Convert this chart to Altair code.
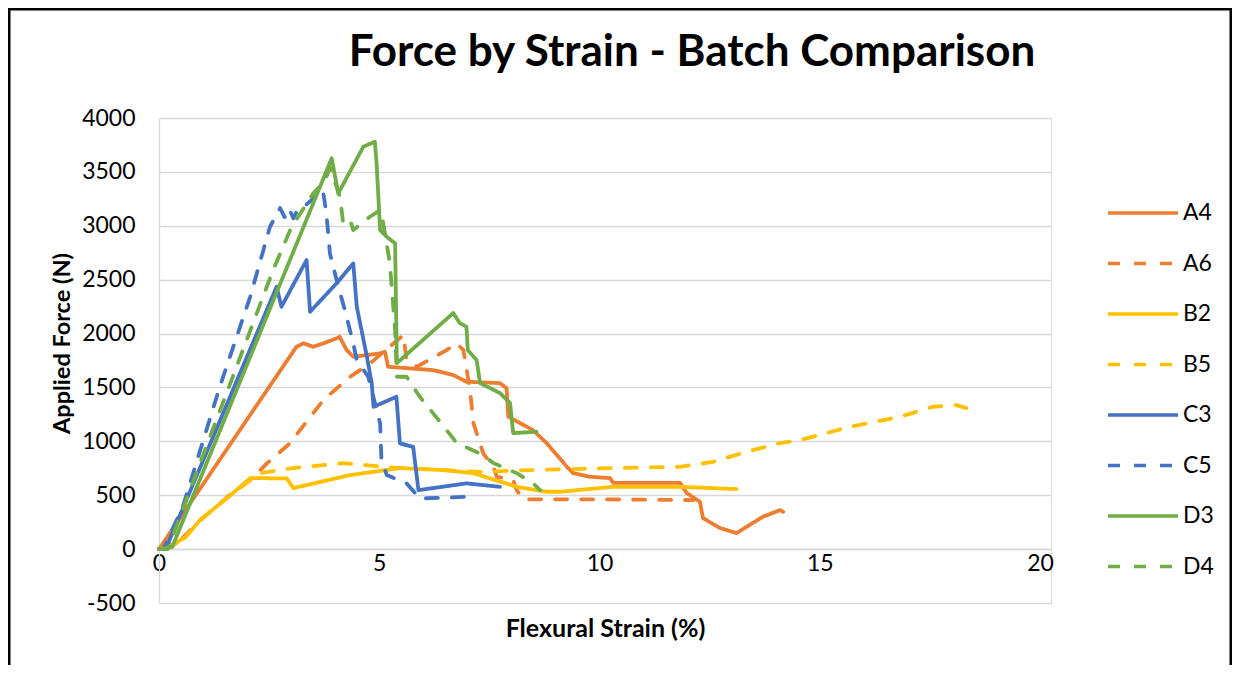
import altair as alt
import pandas as pd

# ---- data ----
series_names = ["A4", "A6", "B2", "B5", "C3", "C5", "D3", "D4"]
series_colors = ["#ED7D31", "#ED7D31", "#FFC000", "#FFC000",
                 "#4472C4", "#4472C4", "#70AD47", "#70AD47"]
series_dashes = [[1, 0], [12, 14], [1, 0], [12, 14],
                 [1, 0], [12, 14], [1, 0], [12, 14]]

a4_x = [0, 3.12, 3.28, 3.5, 3.73, 4.03, 4.1, 4.26, 4.41, 5.02, 5.13, 5.2, 5.6, 6.22, 6.68, 6.98,
        7.74, 7.89, 7.93, 8.2, 8.49, 8.8, 9.26, 9.4, 9.78, 10.24, 10.31, 11.83, 11.98, 12.28,
        12.35, 12.74, 13.11, 13.34, 13.71, 14.1, 14.17]
a4_y = [0, 1877, 1909, 1877, 1909, 1955, 1970, 1847, 1785, 1816, 1831, 1692, 1680, 1661, 1615, 1553,
        1540, 1494, 1228, 1169, 1104, 984, 764, 705, 671, 659, 615, 615, 520, 439,
        288, 195, 148, 207, 300, 362, 346]

a6_x = [0, 0.5, 1.0, 1.6, 2.1, 2.45, 2.97, 3.73, 4.34, 4.79, 5.55, 5.62, 5.85, 6.53, 6.76, 6.91,
        7.06, 7.14, 7.36, 7.59, 7.67, 8.04, 8.12, 8.27, 10.0, 12.13]
a6_y = [0, 90, 290, 500, 650, 795, 981, 1383, 1599, 1723, 1986, 1754, 1692, 1847, 1909, 1847,
        1476, 1166, 888, 764, 671, 640, 547, 462, 462, 455]

b2_x = [0, 0.35, 0.48, 0.6, 0.93, 1.68, 2.07, 2.9, 3.05, 4.34, 5.47, 6.45, 7.13, 8.12, 8.8, 9.1,
        10.31, 11.83, 13.11]
b2_y = [0, 40, 84, 110, 269, 520, 659, 656, 566, 687, 752, 733, 705, 578, 532, 532,
        578, 578, 557]

b5_x = [0, 0.35, 0.48, 0.6, 0.93, 1.68, 2.07, 2.29, 3.04, 4.18, 5.47, 7.29, 8.42, 10.31, 11.83,
        12.58, 13.34, 14.1, 14.55, 15.69, 16.82, 17.57, 18.1, 18.33]
b5_y = [0, 40, 84, 110, 269, 520, 640, 705, 752, 798, 752, 717, 733, 752, 764,
        810, 903, 984, 1011, 1135, 1228, 1321, 1336, 1308]

c3_x = [0, 0.15, 2.67, 2.78, 3.35, 3.43, 4.03, 4.41, 4.49, 4.72, 4.83, 4.87, 5.39, 5.47, 5.77,
        5.89, 6.98, 7.74]
c3_y = [0, 0, 2434, 2249, 2682, 2202, 2466, 2651, 2249, 1785, 1538, 1321, 1413, 981, 949,
        547, 610, 578]

c5_x = [0, 0.1, 0.54, 1.38, 2.07, 2.52, 2.75, 2.85, 2.95, 3.05, 3.15, 3.3, 3.72, 3.8, 3.88,
        4.07, 4.22, 4.41, 4.49, 4.75, 5.02, 5.05, 5.17, 5.62, 5.92, 6.98]
c5_y = [0, 0, 393, 1506, 2341, 2991, 3164, 3080, 3160, 3070, 3150, 3180, 3331, 3116, 2744,
        2434, 2218, 1909, 1754, 1599, 1166, 826, 687, 610, 470, 485]

d3_x = [0, 0.3, 3.92, 4.07, 4.64, 4.9, 4.94, 5.02, 5.17, 5.36, 5.4, 6.68, 6.83, 6.98, 7.01,
        7.21, 7.29, 7.74, 7.97, 8.04, 8.57]
d3_y = [0, 20, 3626, 3301, 3734, 3780, 3580, 2960, 2898, 2837, 1726, 2190, 2097, 2063, 1847,
        1754, 1540, 1448, 1355, 1076, 1089]

d4_x = [0, 0.2, 1.0, 2.0, 2.59, 3.0, 3.5, 3.77, 3.88, 4.11, 4.18, 4.34, 4.41, 4.79, 5.02, 5.09,
        5.24, 5.36, 5.4, 5.62, 5.92, 6.22, 6.53, 6.76, 7.36, 7.59, 8.12, 8.49, 8.65]
d4_y = [0, 0, 870, 1950, 2589, 2980, 3300, 3420, 3540, 3269, 3025, 3053, 2960, 3084, 3146, 3025,
        2654, 2032, 1599, 1599, 1413, 1262, 1104, 984, 872, 798, 705, 612, 547]

x_ticks = [0, 5, 10, 15, 20]
y_ticks = [-500, 0, 500, 1000, 1500, 2000, 2500, 3000, 3500, 4000]

all_x = [a4_x, a6_x, b2_x, b5_x, c3_x, c5_x, d3_x, d4_x]
all_y = [a4_y, a6_y, b2_y, b5_y, c3_y, c5_y, d3_y, d4_y]

rows = []
for name, xs, ys in zip(series_names, all_x, all_y):
    for i, (xv, yv) in enumerate(zip(xs, ys)):
        rows.append({"series": name, "strain": xv, "force": yv, "idx": i})
df = pd.DataFrame(rows)

FONT = "Lato"
W, H = 892, 485

legend = alt.Legend(
    title=None, orient="none", legendX=947, legendY=85, padding=0,
    symbolType="stroke", symbolSize=4900, symbolStrokeWidth=3.5,
    clipHeight=20, rowPadding=27.5, labelOffset=3,
    labelFont=FONT, labelFontSize=23, labelColor="black",
)

lines = alt.Chart(df).mark_line(strokeWidth=3.8, strokeCap="round", strokeJoin="round").encode(
    x=alt.X("strain:Q",
            scale=alt.Scale(domain=[0, 20.25], nice=False, zero=False),
            axis=alt.Axis(values=x_ticks, title="Flexural Strain (%)", offset=-54,
                          grid=False, ticks=False, domainColor="#D9D9D9", domainWidth=1.3,
                          labelFont=FONT, labelFontSize=23, labelColor="black", labelPadding=3,
                          labelFlush=False,
                          titleFont=FONT, titleFontSize=25, titleFontWeight="bold",
                          titleColor="black", titleY=79, titleBaseline="middle")),
    y=alt.Y("force:Q",
            scale=alt.Scale(domain=[-500, 4000], nice=False, zero=False),
            axis=alt.Axis(values=y_ticks, title="Applied Force (N)",
                          labelExpr="'' + datum.value",
                          grid=True, gridColor="#D9D9D9", gridWidth=1.3,
                          ticks=False, domainColor="#D9D9D9", domainWidth=1.3,
                          labelFont=FONT, labelFontSize=23, labelColor="black", labelPadding=24,
                          titleFont=FONT, titleFontSize=23.5, titleFontWeight="bold",
                          titleColor="black", titleX=-97, titleY=225, titleAngle=270,
                          titleAlign="center", titleBaseline="middle")),
    color=alt.Color("series:N", scale=alt.Scale(domain=series_names, range=series_colors),
                    legend=legend),
    strokeDash=alt.StrokeDash("series:N", scale=alt.Scale(domain=series_names, range=series_dashes),
                              legend=legend),
    order="idx:Q",
)

frame = alt.Chart(alt.Data(values=[{"f": 1}])).mark_rect(
    fillOpacity=0, stroke="black", strokeWidth=2.5
).encode(
    x=alt.value(-149.75), x2=alt.value(W + 181 - 1.25),
    y=alt.value(-108.75), y2=alt.value(H + 80),
)

chart = alt.layer(lines, frame).properties(
    width=W, height=H,
    title=alt.TitleParams("Force by Strain - Batch Comparison", font=FONT, fontSize=44,
                          fontWeight="bold", color="black", anchor="middle", dx=87, dy=71),
    autosize=alt.AutoSizeParams(type="none"),
    padding={"left": 151, "top": 110, "right": 181, "bottom": 62},
).configure_view(stroke=None).configure(background="white")

chart.save("out.html", embed_options={"renderer": "svg", "actions": False})
